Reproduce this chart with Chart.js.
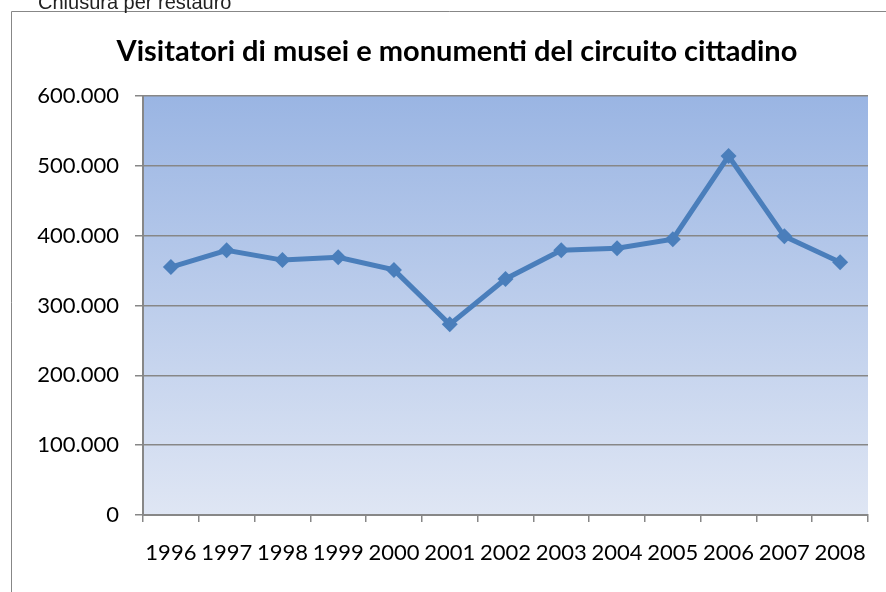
<!DOCTYPE html>
<html>
<head>
<meta charset="utf-8">
<script src="https://cdn.jsdelivr.net/npm/chart.js@4.4.0/dist/chart.umd.min.js"></script>
<style>
  html, body { margin: 0; padding: 0; background: #fff; overflow: hidden; scrollbar-width: none; }
  #note {
    position: absolute; left: 38px; top: -9px; z-index: 2;
    font: 20px "Liberation Sans", Arial, sans-serif; color: #222;
    white-space: nowrap;
  }
  #title {
    position: absolute; left: 0; top: 32px; width: 886px; z-index: 2;
    padding-left: 28px; box-sizing: border-box;
    text-align: center; line-height: 34px;
    font: bold 29px Lato, sans-serif; color: #000;
    white-space: nowrap;
  }
  #visitChart { position: absolute; left: 0; top: 0; }
</style>
</head>
<body>
<div id="note">Chiusura per restauro</div>
<div id="title">Visitatori di musei e monumenti del circuito cittadino</div>
<canvas id="visitChart" width="886" height="592"></canvas>
<script>
const years = ['1996', '1997', '1998', '1999', '2000', '2001', '2002', '2003', '2004', '2005', '2006', '2007', '2008'];
const visitors = [355000, 379000, 365000, 369000, 351000, 273000, 338000, 379000, 382000, 395000, 514000, 399000, 362000];
const yTicks = [0, 100000, 200000, 300000, 400000, 500000, 600000];

const ctx = document.getElementById('visitChart').getContext('2d');

// outer frame (top and left edges, the rest is off-page) + gradient plot area
const plotBg = {
  id: 'plotBg',
  beforeDraw(chart) {
    const { ctx, chartArea: a } = chart;
    ctx.save();
    ctx.strokeStyle = '#878787';
    ctx.lineWidth = 1;
    ctx.beginPath();
    ctx.moveTo(11.5, chart.height + 5);
    ctx.lineTo(11.5, 11.5);
    ctx.lineTo(chart.width + 5, 11.5);
    ctx.stroke();
    const g = ctx.createLinearGradient(0, a.top, 0, a.bottom);
    g.addColorStop(0, '#9ab5e3');
    g.addColorStop(1, '#dfe6f4');
    ctx.fillStyle = g;
    ctx.fillRect(a.left, a.top, a.right - a.left, a.bottom - a.top);
    ctx.restore();
  }
};

const fmt = v => String(v).replace(/\B(?=(\d{3})+(?!\d))/g, '.');

new Chart(ctx, {
  type: 'line',
  data: {
    labels: years,
    datasets: [{
      data: visitors,
      borderColor: '#4a7ebb',
      backgroundColor: '#4a7ebb',
      borderWidth: 5,
      pointStyle: 'rectRot',
      pointRadius: 8,
      pointHoverRadius: 8,
      pointBorderWidth: 0,
      tension: 0
    }]
  },
  options: {
    responsive: false,
    animation: false,
    layout: { padding: { left: 0, right: 18, top: 96, bottom: 0 } },
    plugins: {
      legend: { display: false },
      tooltip: { enabled: false },
      title: { display: false }
    },
    scales: {
      x: {
        offset: true,
        grid: {
          offset: true,
          drawOnChartArea: false,
          color: '#878787',
          lineWidth: 1.5,
          tickLength: 7
        },
        border: { color: '#878787', width: 2 },
        ticks: {
          color: '#000',
          font: { family: 'Lato', size: 22 },
          padding: 18,
          maxRotation: 0,
          autoSkip: false
        },
        afterFit(scale) { scale.height = 77; }
      },
      y: {
        min: 0,
        max: 600000,
        afterBuildTicks(scale) { scale.ticks = yTicks.map(v => ({ value: v })); },
        grid: { color: '#878787', lineWidth: 1.5, tickLength: 8 },
        border: { color: '#878787', width: 2 },
        ticks: {
          color: '#000',
          font: { family: 'Lato', size: 22 },
          padding: 16,
          callback: v => fmt(v)
        },
        afterFit(scale) { scale.width = 143; }
      }
    }
  },
  plugins: [plotBg]
});
</script>
</body>
</html>
